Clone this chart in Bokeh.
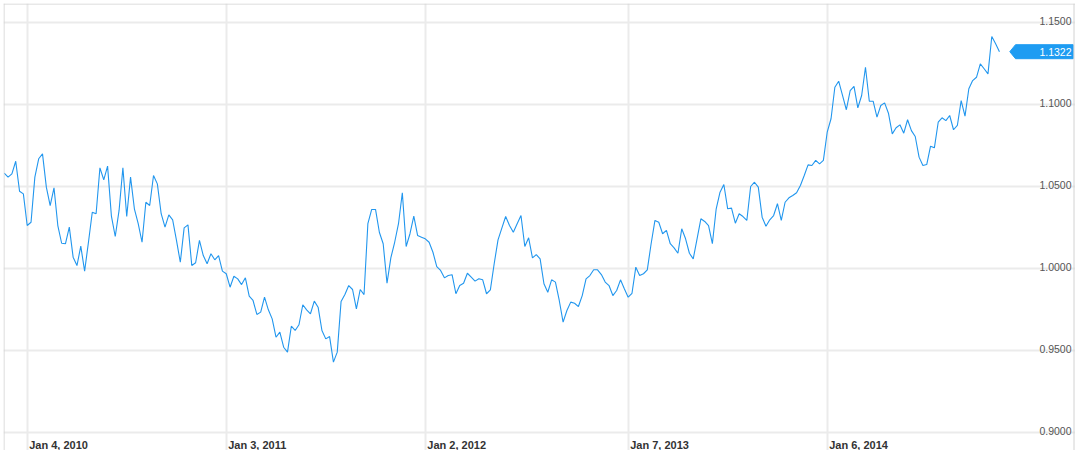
import pandas as pd
from bokeh.core.properties import value
from bokeh.embed import file_html
from bokeh.models import ColumnDataSource, FixedTicker, Grid, Range1d, Span
from bokeh.plotting import figure
from bokeh.resources import INLINE

# weekly closes, first week starting Nov 23, 2009
start_week = "2009-11-23"
closes = [
    1.0581, 1.0557, 1.0577, 1.0654, 1.0471, 1.0455, 1.0262, 1.0282, 1.0557, 1.0669,
    1.0699, 1.0496, 1.0384, 1.0492, 1.0262, 1.0154, 1.0151, 1.0252, 1.0069, 1.0018,
    1.0136, 0.9984, 1.0160, 1.0343, 1.0334, 1.0614, 1.0541, 1.0624, 1.0319, 1.0195,
    1.0354, 1.0614, 1.0317, 1.0557, 1.0364, 1.0273, 1.0160, 1.0404, 1.0384, 1.0567,
    1.0516, 1.0334, 1.0252, 1.0327, 1.0297, 1.0171, 1.0038, 1.0248, 1.0266, 1.0018,
    1.0035, 1.0171, 1.0079, 1.0029, 1.0090, 1.0053, 1.0079, 0.9984, 0.9968, 0.9886,
    0.9953, 0.9937,
    0.9902, 0.9943, 0.9831, 0.9805, 0.9720, 0.9734, 0.9825, 0.9748, 0.9693, 0.9581,
    0.9612, 0.9520, 0.9490, 0.9648, 0.9622, 0.9657, 0.9779, 0.9748, 0.9724, 0.9801,
    0.9764, 0.9622, 0.9571, 0.9585, 0.9429, 0.9490, 0.9799, 0.9841, 0.9896, 0.9872,
    0.9754, 0.9872, 0.9841, 1.0273, 1.0360, 1.0360, 1.0221, 1.0151, 0.9910, 1.0065,
    1.0160, 1.0273, 1.0462, 1.0134, 1.0212, 1.0319, 1.0201, 1.0191, 1.0181, 1.0160,
    1.0099, 1.0012, 0.9988, 0.9943, 0.9957, 0.9962, 0.9846, 0.9896,
    0.9910, 0.9971, 0.9947, 0.9923, 0.9937, 0.9931, 0.9846, 0.9870, 1.0029, 1.0175,
    1.0246, 1.0317, 1.0262, 1.0221, 1.0273, 1.0323, 1.0134, 1.0187, 1.0065, 1.0085,
    1.0059, 0.9907, 0.9855, 0.9931, 0.9917, 0.9805, 0.9673, 0.9744, 0.9795, 0.9788,
    0.9768, 0.9835, 0.9937, 0.9957, 0.9992, 0.9992, 0.9963, 0.9917, 0.9896, 0.9835,
    0.9866, 0.9931, 0.9876, 0.9825, 0.9849, 1.0008, 0.9957, 0.9968, 0.9992, 1.0151,
    1.0293, 1.0282,
    1.0212, 1.0232, 1.0151, 1.0126, 1.0093, 1.0242, 1.0181, 1.0093, 1.0059, 1.0181,
    1.0303, 1.0287, 1.0262, 1.0151, 1.0364, 1.0465, 1.0512, 1.0364, 1.0368, 1.0276,
    1.0334, 1.0317, 1.0293, 1.0500, 1.0526, 1.0496, 1.0313, 1.0258, 1.0297, 1.0323,
    1.0395, 1.0293, 1.0404, 1.0431, 1.0445, 1.0462, 1.0506, 1.0567, 1.0632, 1.0628,
    1.0659, 1.0638, 1.0659, 1.0831, 1.0913, 1.1105, 1.1142, 1.1055, 1.0968, 1.1085,
    1.1110, 1.0980,
    1.1055, 1.1227, 1.1020, 1.1020, 1.0923, 1.0994, 1.1010, 1.0947, 1.0821, 1.0858,
    1.0876, 1.0825, 1.0907, 1.0841, 1.0805, 1.0679, 1.0628, 1.0634, 1.0746, 1.0736,
    1.0892, 1.0919, 1.0902, 1.0933, 1.0846, 1.0872, 1.1024, 1.0929, 1.1096, 1.1146,
    1.1166, 1.1248, 1.1218, 1.1187, 1.1415, 1.1370, 1.1322,
]
last_label = "1.1322"

tick_dates = ["2010-01-04", "2011-01-03", "2012-01-02", "2013-01-07", "2014-01-06"]
tick_labels = ["Jan 4, 2010", "Jan 3, 2011", "Jan 2, 2012", "Jan 7, 2013", "Jan 6, 2014"]
level_ticks = [0.90, 0.95, 1.00, 1.05, 1.10, 1.15]
level_labels = ["0.9000", "0.9500", "1.0000", "1.0500", "1.1000", "1.1500"]

W, H = 1075, 450
PAD = 3                     # frame inset on top and left
FW, FH = W - PAD, H - PAD   # frame size
LINE = "#2196ee"
TAG = "#1e9cf2"

# scale: 800px for 209 weeks, 1640px per unit of price
ms_px = 209 * 7 * 86400000 / 800
v_px = 1 / 1640
tick_ms = [pd.Timestamp(d).value / 1e6 for d in tick_dates]
x_start = tick_ms[0] - 23.7 * ms_px
x_end = x_start + FW * ms_px
y_end = 1.15 + 19 * v_px
y_start = y_end - FH * v_px

dates = pd.date_range(start_week, periods=len(closes), freq="7D")

p = figure(width=W, height=H, x_axis_type="datetime",
           x_axis_location=None, y_axis_location=None,
           x_range=Range1d(x_start, x_end), y_range=Range1d(y_start, y_end),
           output_backend="svg", toolbar_location=None,
           min_border_left=PAD, min_border_top=PAD,
           min_border_right=0, min_border_bottom=0)
p.outline_line_color = None
p.grid.visible = False
p.background_fill_color = "white"

p.add_layout(Grid(dimension=0, ticker=FixedTicker(ticks=tick_ms),
                  grid_line_color="#ebebeb", grid_line_width=2))
p.add_layout(Grid(dimension=1, ticker=FixedTicker(ticks=level_ticks),
                  grid_line_color="#ebebeb", grid_line_width=2))

# frame borders (left, right, top)
for loc, dim in [(x_start + 0.5 * ms_px, "height"),
                 (x_start + (FW - 0.5) * ms_px - 1 * ms_px, "height"),
                 (y_end - 0.5 * v_px, "width")]:
    p.add_layout(Span(location=loc, dimension=dim,
                      line_color="#d2d2d2", line_width=1))

p.line(dates, closes, line_color=LINE, line_width=1.1)

# price levels, right side
lv = ColumnDataSource(dict(x=[x_end] * len(level_ticks), y=level_ticks, t=level_labels))
p.text(x="x", y="y", text="t", source=lv, text_align="right",
       text_baseline="alphabetic", x_offset=-4, y_offset=-2,
       text_font=value("Liberation Sans"), text_font_size=value("10.5px"),
       text_color="#555555")

# date labels, bottom
dl = ColumnDataSource(dict(x=tick_ms, y=[y_start] * len(tick_ms), t=tick_labels))
p.text(x="x", y="y", text="t", source=dl, text_align="left",
       text_baseline="alphabetic", x_offset=2, y_offset=-5.5,
       text_font=value("Liberation Sans"), text_font_size=value("11px"),
       text_font_style="bold", text_color="#333333")

# last price tag
last = closes[-1]
tag_x = [x_end - 65.7 * ms_px, x_end - 60 * ms_px, x_end - 2.3 * ms_px,
         x_end - 2.3 * ms_px, x_end - 60 * ms_px]
tag_y = [last, last + 7 * v_px, last + 7 * v_px, last - 7 * v_px, last - 7 * v_px]
p.patch(tag_x, tag_y, fill_color=TAG, line_color=TAG)
p.text(x=[x_end], y=[last], text=[last_label], text_align="right",
       text_baseline="middle", x_offset=-4,
       text_font=value("Liberation Sans"), text_font_size=value("10.5px"),
       text_color="white")

open("out.html", "w").write(file_html(p, INLINE))
